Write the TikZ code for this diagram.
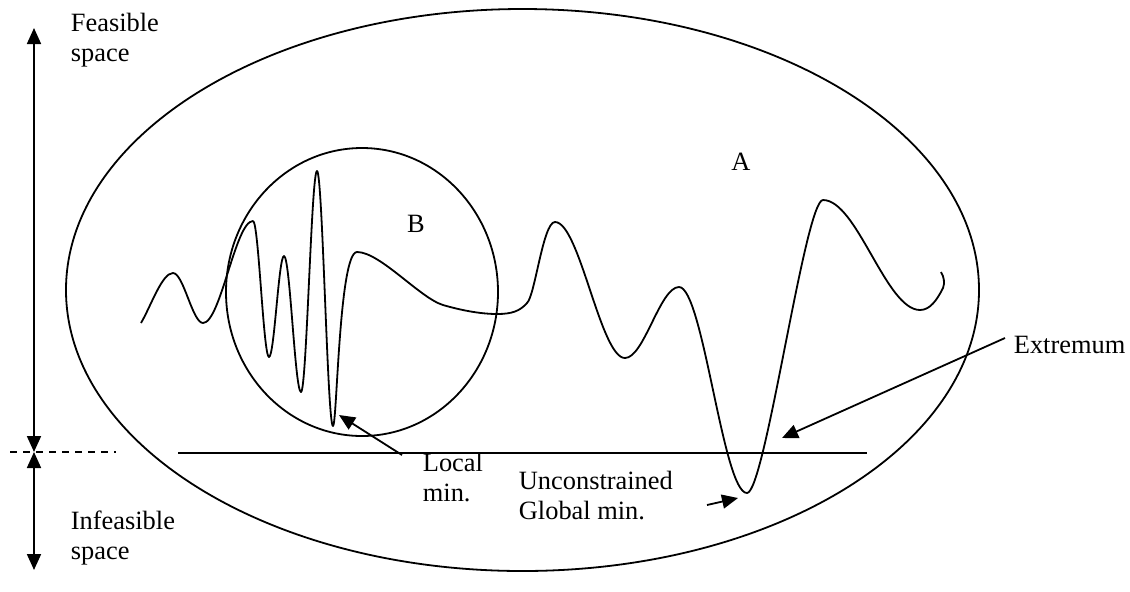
\documentclass[tikz,border=0pt]{standalone}
\usepackage{fontspec}
\setmainfont{Liberation Serif}
\usetikzlibrary{arrows.meta}
\begin{document}
\begin{tikzpicture}[x=0.5pt,y=-0.5pt, line width=0.9pt,
  lbl/.style={inner sep=0pt, font=\fontsize{13.2}{15}\selectfont, align=left},
  tip/.style={-{Triangle[length=8pt,width=7pt]}},
  dtip/.style={{Triangle[length=8pt,width=7pt]}-{Triangle[length=8pt,width=7pt]}},
  curve/.style={line width=0.9pt, line join=round}]
\useasboundingbox (0,0) rectangle (1130,591);

% region A and region B
\draw (522.5,290) ellipse [x radius=228.25pt, y radius=140.5pt];
\draw (362,292) ellipse [x radius=68pt, y radius=72pt];

% constraint line
\coordinate (cL) at (178,453);
\coordinate (cR) at (867,453);
\draw (cL) -- (cR);
\coordinate (dL) at (10,452);
\coordinate (dR) at (116,452);
\draw[dash pattern=on 3.5pt off 3pt] (dL) -- (dR);

% objective function
\draw[curve] (141,323) .. controls (151,306) and (162,273) .. (173,273)
 .. controls (183.5,273) and (192.5,323) .. (203,323)
 .. controls (220.5,323) and (235.5,221) .. (253,221)
 .. controls (258.6,221) and (263.4,357) .. (269,357)
 .. controls (274.3,357) and (278.7,256) .. (284,256)
 .. controls (290,256) and (295,392) .. (301,392)
 .. controls (306.6,392) and (311.4,171) .. (317,171)
 .. controls (322.6,171) and (327.4,426) .. (333,426)
 .. controls (337,426) and (339,252) .. (357,252)
 .. controls (380,252) and (420,298) .. (443,305)
 .. controls (460,310) and (480,314) .. (497,314)
 .. controls (512,314) and (520,311) .. (527,303)
 .. controls (535,296) and (543,222) .. (555,222)
 .. controls (579.5,222) and (600.5,358) .. (625,358)
 .. controls (644,358) and (660,287) .. (679,287)
 .. controls (703,287) and (723,493) .. (747,493)
 .. controls (765,493) and (805,200) .. (823,200)
 .. controls (857,200) and (886,310) .. (920,310)
 .. controls (930,310) and (937,300) .. (943,288)
 .. controls (945,283) and (944,277) .. (941,272);

% labels
\node[lbl, anchor=north west] (feas) at (70,12) {Feasible\\space};
\node[lbl, anchor=north west] (infeas) at (70,510) {Infeasible\\space};
\node[lbl] (A) at (741,162) {A};
\node[lbl] (B) at (416,224) {B};
\node[lbl, anchor=north west] (local) at (422,452) {Local\\min.};
\node[lbl, anchor=north west] (glob) at (518,470) {Unconstrained\\Global min.};
\node[lbl, anchor=base west] (ext) at (1013,353) {Extremum};

% feasible / infeasible arrows
\coordinate (vTop) at (34,28);
\coordinate (vMid) at (34,452);
\coordinate (vBot) at (34,570);
\draw[dtip] (vMid) -- (vTop);
\draw[dtip] (vMid) -- (vBot);

% pointer arrows
\coordinate (extT) at (1005,338);
\coordinate (extH) at (782,438);
\draw[tip] (extT) -- (extH);
\coordinate (locT) at (402,455);
\coordinate (locH) at (339,415);
\draw[tip] (locT) -- (locH);
\coordinate (globT) at (707,505);
\coordinate (globH) at (738,498);
\draw[tip] (globT) -- (globH);
\end{tikzpicture}
\end{document}
